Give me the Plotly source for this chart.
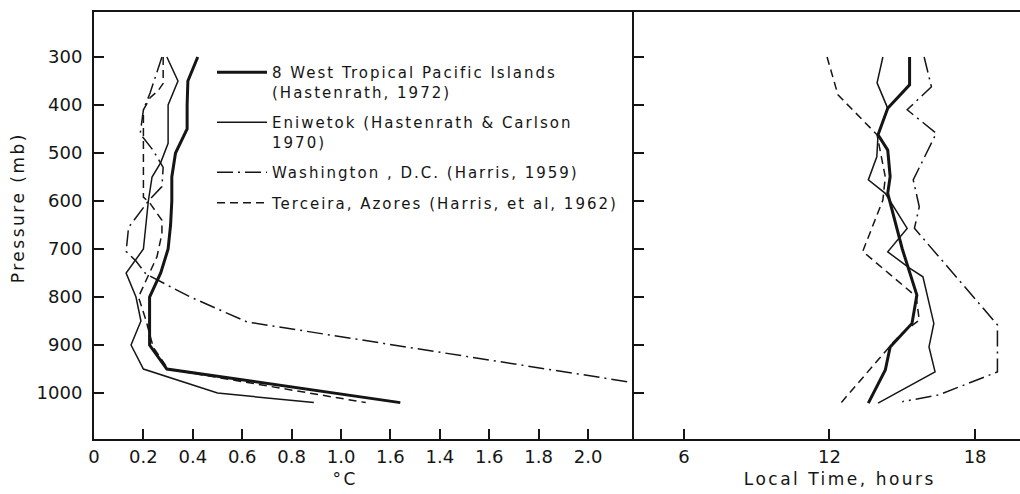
import plotly.graph_objects as go

# ---- Diurnal temperature amplitude (deg C) against pressure (mb) ----
pacific_amp_p = [300, 350, 400, 450, 500, 550, 600, 650, 700, 750, 800, 850, 900, 950, 1020]
pacific_amp = [0.42, 0.38, 0.377, 0.377, 0.33, 0.315, 0.315, 0.31, 0.30, 0.27, 0.225, 0.225, 0.225, 0.295, 1.24]

eniwetok_amp_p = [300, 350, 400, 480, 520, 550, 600, 650, 700, 750, 800, 850, 900, 950, 1000, 1020]
eniwetok_amp = [0.295, 0.34, 0.30, 0.30, 0.27, 0.235, 0.22, 0.21, 0.20, 0.13, 0.17, 0.19, 0.15, 0.20, 0.50, 0.89]

washington_amp_p = [300, 375, 410, 460, 495, 530, 570, 600, 655, 705, 725, 752, 800, 852, 1000]
washington_amp = [0.275, 0.227, 0.20, 0.187, 0.24, 0.28, 0.275, 0.22, 0.14, 0.13, 0.17, 0.21, 0.39, 0.62, 2.45]

terceira_amp_p = [300, 355, 370, 385, 410, 460, 520, 592, 605, 640, 668, 716, 800, 848, 905, 950, 1020]
terceira_amp = [0.28, 0.28, 0.26, 0.227, 0.20, 0.20, 0.20, 0.20, 0.227, 0.275, 0.275, 0.255, 0.18, 0.21, 0.24, 0.30, 1.10]

# ---- Local time of the temperature maximum (hours) against pressure (mb) ----
pacific_time_p = [300, 358, 407, 462, 494, 549, 584, 700, 796, 855, 904, 952, 1021]
pacific_time = [15.3, 15.3, 14.4, 14.0, 14.4, 14.5, 14.4, 15.0, 15.6, 15.4, 14.5, 14.3, 13.6]

eniwetok_time_p = [300, 354, 407, 462, 508, 556, 584, 657, 706, 740, 758, 855, 904, 956, 1021]
eniwetok_time = [14.2, 13.96, 14.4, 14.0, 13.95, 13.6, 14.3, 15.2, 14.4, 15.3, 15.85, 16.3, 16.1, 16.35, 14.0]

washington_time_p = [300, 362, 410, 459, 556, 612, 657, 858, 956, 1004, 1018]
washington_time = [15.9, 16.2, 15.2, 16.4, 15.45, 15.7, 15.5, 18.92, 18.92, 16.5, 15.0]

terceira_time_p = [300, 379, 462, 550, 598, 705, 799, 848, 875, 896, 1022]
terceira_time = [11.9, 12.35, 13.96, 14.3, 14.2, 13.37, 15.57, 15.7, 15.0, 14.6, 12.45]

# ---- Axis ticks ----
pressure_ticks = [300, 400, 500, 600, 700, 800, 900, 1000]
amp_tickvals = [0, 0.2, 0.4, 0.6, 0.8, 1.0, 1.2, 1.4, 1.6, 1.8, 2.0]
amp_ticktext = ["0", "0.2", "0.4", "0.6", "0.8", "1.0", "1.6", "1.4", "1.6", "1.8", "2.0"]
time_tickvals = [6, 12, 18]

legend_names = [
    "8 West Tropical Pacific Islands<br>(Hastenrath, 1972)",
    "Eniwetok (Hastenrath & Carlson<br>1970)",
    "Washington , D.C. (Harris, 1959)",
    "Terceira, Azores (Harris, et al, 1962)",
]

INK = "#151515"
FONT = "DejaVu Sans"

line_styles = [
    dict(color=INK, width=3.0, dash="solid"),
    dict(color=INK, width=1.5, dash="solid"),
    dict(color=INK, width=1.5, dash="16px,5px,2px,5px"),
    dict(color=INK, width=1.5, dash="8px,5px"),
]

amp_series = [
    (pacific_amp, pacific_amp_p),
    (eniwetok_amp, eniwetok_amp_p),
    (washington_amp, washington_amp_p),
    (terceira_amp, terceira_amp_p),
]
time_series = [
    (pacific_time, pacific_time_p),
    (eniwetok_time, eniwetok_time_p),
    (washington_time, washington_time_p),
    (terceira_time, terceira_time_p),
]

fig = go.Figure()
for i, (name, style, (amp, amp_p), (tm, tm_p)) in enumerate(
        zip(legend_names, line_styles, amp_series, time_series)):
    group = f"g{i}"
    fig.add_trace(go.Scatter(x=amp, y=amp_p, mode="lines", line=style, name=name,
                             legendgroup=group, xaxis="x", yaxis="y"))
    fig.add_trace(go.Scatter(x=tm, y=tm_p, mode="lines", line=style, name=name,
                             legendgroup=group, showlegend=False, xaxis="x2", yaxis="y2"))

W, H = 1020, 494
ML, MR, MT, MB = 94, 0, 12, 55
split = (634 - ML) / (W - ML - MR)
p_range = [1095.8, 206.3]

axis_common = dict(
    showgrid=False, zeroline=False, showline=True, linecolor=INK, linewidth=2,
    ticks="inside", ticklen=10, tickwidth=1.5, tickcolor=INK,
    tickfont=dict(family=FONT, size=18, color=INK),
)

fig.update_layout(
    width=W, height=H,
    margin=dict(l=ML, r=MR, t=MT, b=MB),
    paper_bgcolor="white", plot_bgcolor="white",
    font=dict(family=FONT, color=INK),
    xaxis=dict(domain=[0, split], range=[0, 2.186], tickmode="array",
               tickvals=amp_tickvals, ticktext=amp_ticktext, mirror=True,
               ticklabelstandoff=0, anchor="y", **axis_common),
    yaxis=dict(range=p_range, tickmode="array", tickvals=pressure_ticks,
               ticklabelstandoff=6, anchor="x", **axis_common),
    xaxis2=dict(domain=[split, 1], range=[3.945, 19.85], tickmode="array",
                tickvals=time_tickvals, mirror=True, ticklabelstandoff=0,
                anchor="y2", **axis_common),
    yaxis2=dict(range=p_range, tickmode="array", tickvals=pressure_ticks,
                showticklabels=False, anchor="x2", **axis_common),
    showlegend=True,
    legend=dict(
        x=(212 - ML) / (W - ML - MR), xanchor="left",
        y=1 - (56 - MT) / (H - MT - MB), yanchor="top",
        bgcolor="rgba(0,0,0,0)", borderwidth=0,
        font=dict(family=FONT, size=15, color=INK),
        itemwidth=50, valign="top", traceorder="grouped", tracegroupgap=8,
        itemclick=False, itemdoubleclick=False,
    ),
)

plot_w = W - ML - MR
plot_h = H - MT - MB


def px_x(x):
    return (x - ML) / plot_w


def px_y(y):
    return 1 - (y - MT) / plot_h


title_font = dict(family=FONT, size=17, color=INK)
fig.add_annotation(text="Pressure (mb)", x=px_x(18), y=px_y(208), xref="paper", yref="paper",
                   textangle=-90, showarrow=False, font=title_font,
                   xanchor="center", yanchor="middle", name="ytitle")
fig.add_annotation(text="°C", x=px_x(345), y=px_y(479), xref="paper", yref="paper",
                   showarrow=False, font=title_font, xanchor="center", yanchor="middle")
fig.add_annotation(text="Local Time, hours", x=px_x(840), y=px_y(479), xref="paper", yref="paper",
                   showarrow=False, font=title_font, xanchor="center", yanchor="middle")

# Typewriter-style wide letter spacing for the legend and the axis captions;
# the legend box is sized before the spacing applies, so its clip is lifted.
letter_spacing_js = """
var s = document.createElement('style');
s.textContent = '.legendtext{letter-spacing:2px}'
  + ' .legend .scrollbox{clip-path:none !important}'
  + ' .annotation-text{letter-spacing:2.5px}'
  + ' .annotation:first-of-type .annotation-text{letter-spacing:4px}';
document.head.appendChild(s);
"""

fig.write_html("out.html", post_script=letter_spacing_js)
